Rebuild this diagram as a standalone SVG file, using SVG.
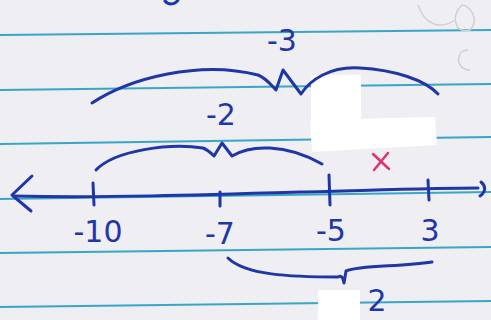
<svg xmlns="http://www.w3.org/2000/svg" width="491" height="320" viewBox="0 0 491 320">
<style>
.rule{stroke:#3aa6c6;stroke-width:2;fill:none}
.ink{stroke:#1f36a6;stroke-width:3;fill:none;stroke-linecap:round;stroke-linejoin:round}
.lbl{font-family:"DejaVu Sans",sans-serif;font-size:30px;fill:#1f36a6;text-anchor:middle}
.patch{fill:#ffffff}
</style>
<rect width="491" height="320" fill="#eeeef3"/>
<g id="paper-rules">
<line class="rule" x1="0" y1="35" x2="491" y2="30"/>
<line class="rule" x1="0" y1="90" x2="491" y2="84"/>
<line class="rule" x1="0" y1="144" x2="491" y2="137"/>
<line class="rule" x1="0" y1="199" x2="491" y2="192"/>
<line class="rule" x1="0" y1="253" x2="491" y2="247"/>
<line class="rule" x1="0" y1="307" x2="491" y2="301"/>
</g>
<path d="M418 5 C425 25 440 30 455 20 M462 5 C450 15 455 35 470 30 C480 20 470 5 462 5 M468 50 C455 50 455 70 470 70" stroke="#d0d0d4" stroke-width="1.5" fill="none"/>
<path class="ink" d="M165 1 C168 5 175 5 178 0"/>
<g id="patches">
<rect class="patch" x="311" y="75" width="50" height="50"/>
<polygon class="patch" points="310,120 435,117 437,145 312,152"/>
<rect class="patch" x="318" y="290" width="42" height="30"/>
</g>
<g id="brace-top">
<path class="ink" d="M92 103 C130 78 200 60 258 75 C266 78 271 85 276 90 L283 70 L301 94 C310 80 330 66 360 68 C395 70 425 80 438 94"/>
<text class="lbl" x="282" y="51" font-size="36">-3</text>
</g>
<g id="brace-mid">
<path class="ink" d="M96 170 C115 150 170 143 203 148 C208 150 211 153 214 156 L222 143 L232 156 C250 145 285 143 322 164"/>
<text class="lbl" x="221" y="125" font-size="32">-2</text>
</g>
<g id="brace-bottom">
<path class="ink" d="M228 258 C245 275 290 277 338 277 C342 275 343 278 344 283 L346 271 C360 265 400 267 432 262"/>
<text class="lbl" x="377" y="311" font-size="28">2</text>
</g>
<g id="number-line">
<path class="ink" d="M14 196 C100 198 200 195 300 192 C380 190 440 188 478 188" stroke-width="3.5"/>
<path class="ink" d="M32 176 L12 195 L31 211"/>
<path class="ink" d="M481 182 C486 186 486 192 480 196"/>
<line class="ink" x1="93" y1="183" x2="94" y2="205"/>
<line class="ink" x1="220" y1="192" x2="220" y2="206"/>
<line class="ink" x1="329" y1="175" x2="330" y2="205"/>
<line class="ink" x1="428" y1="180" x2="429" y2="200"/>
<text class="lbl" x="98" y="242">-10</text>
<text class="lbl" x="220" y="244">-7</text>
<text class="lbl" x="331" y="241">-5</text>
<text class="lbl" x="430" y="241">3</text>
</g>
<g id="mark-x">
<path d="M373 154 L389 169 M388 153 L374 170" stroke="#e0306e" stroke-width="2.5" stroke-linecap="round"/>
</g>
</svg>
